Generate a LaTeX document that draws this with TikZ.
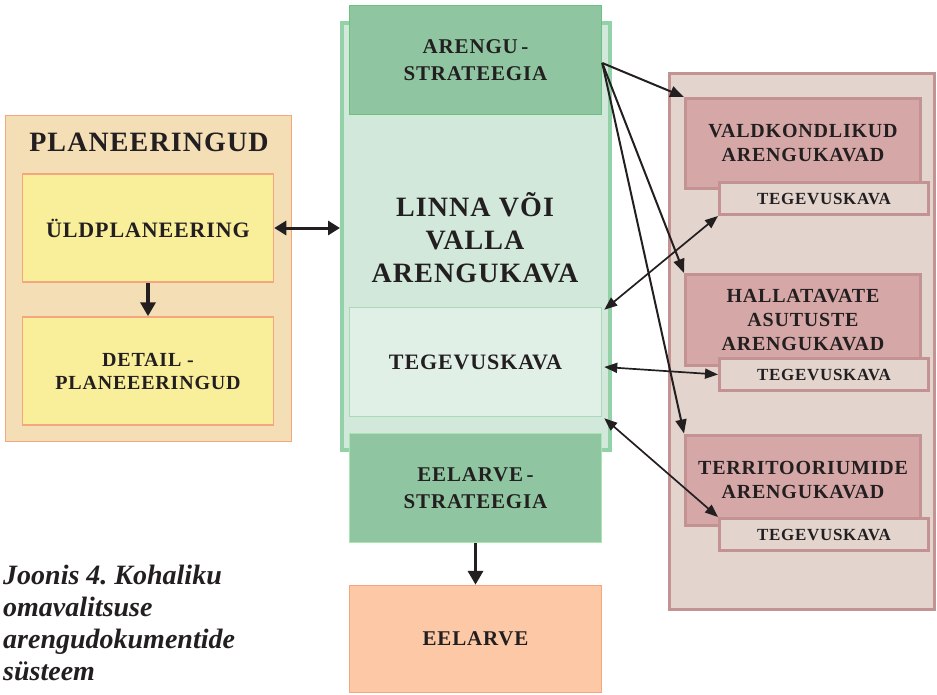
\documentclass[tikz,border=0pt]{standalone}
\usepackage{fontspec}
\setmainfont{Liberation Serif}[LetterSpace=4]
\newfontfamily\captionfont{Liberation Serif}
\usetikzlibrary{arrows.meta}
\frenchspacing

\definecolor{ink}{HTML}{231F20}
\definecolor{planfill}{HTML}{F3DEB6}
\definecolor{salmon}{HTML}{F6A67E}
\definecolor{yellowfill}{HTML}{F9EE9A}
\definecolor{greenouter}{HTML}{D1E8DA}
\definecolor{greenedge}{HTML}{93D2A8}
\definecolor{greendark}{HTML}{8FC6A1}
\definecolor{greendarkedge}{HTML}{6CC17E}
\definecolor{greenpale}{HTML}{E1F0E6}
\definecolor{greenpaleedge}{HTML}{A9D9B9}
\definecolor{peach}{HTML}{FCC8A5}
\definecolor{roseouter}{HTML}{E3D4CD}
\definecolor{roseedge}{HTML}{C39394}
\definecolor{rosebox}{HTML}{D6A7A7}

\newcommand{\fs}[2]{\fontsize{#1}{#2}\selectfont}

\tikzset{
  box/.style={draw, inner sep=0pt, align=center, text=ink},
  planbox/.style={box, fill=yellowfill, draw=salmon, line width=1.5pt,
    minimum width=251pt, minimum height=108pt},
  stratbox/.style={box, fill=greendark, draw=greendarkedge, line width=1.5pt,
    minimum width=252pt, minimum height=109pt,
    font=\bfseries\fs{21}{27}},
  kavabox/.style={box, fill=rosebox, draw=roseedge, line width=3pt,
    minimum width=235pt, minimum height=90pt,
    font=\bfseries\fs{20}{24}},
  tegbox/.style={box, fill=roseouter, draw=roseedge, line width=3pt,
    minimum width=209pt, minimum height=32pt,
    font=\bfseries\fs{17}{20}},
  heavyarrow/.style={draw=ink, line width=3.5pt, -{Triangle[length=14pt,width=15pt]}},
  heavylink/.style={draw=ink, line width=3pt,
    {Triangle[length=12pt,width=14pt]}-{Triangle[length=12pt,width=14pt]}},
  fanarrow/.style={draw=ink, line width=2pt, -{Triangle[length=14pt,width=11pt]}},
  thinlink/.style={draw=ink, line width=1.7pt,
    {Triangle[length=13pt,width=10pt]}-{Triangle[length=13pt,width=10pt]}},
}

\begin{document}
\begin{tikzpicture}[x=1pt, y=-1pt]
\useasboundingbox (0,0) rectangle (937,694);

% ---- planning group ----
\node[box, fill=planfill, draw=salmon, line width=1.5pt,
      minimum width=286pt, minimum height=326pt] (plan) at (148.5,278.5) {};
\node[text=ink, font=\bfseries\fs{28}{32}] (plantitle) at (149,142) {PLANEERINGUD};
\node[planbox, font=\bfseries\fs{22}{26}] (uld) at (148,228) {ÜLDPLANEERING};
\node[planbox, font=\bfseries\fs{20}{23}] (det) at (148,371) {DETAIL -\\PLANEEERINGUD};
\draw[heavyarrow] (uld.south) -- (det.north);

% ---- development plan of the municipality ----
\node[box, fill=greenouter, draw=greenedge, line width=4pt,
      minimum width=268pt, minimum height=427pt] (gout) at (476,236.5) {};
\node[stratbox] (aren) at (475.5,60) {ARENGU\,-\\STRATEEGIA};
\node[text=ink, align=center, font=\bfseries\fs{28}{33}] (linna) at (475,238)
  {LINNA VÕI\\VALLA\\ARENGUKAVA};
\node[box, fill=greenpale, draw=greenpaleedge, line width=1.5pt,
      minimum width=252pt, minimum height=109pt, font=\bfseries\fs{22}{26}]
  (tegc) at (475.5,362) {TEGEVUSKAVA};
\node[stratbox, draw=greendark!80!green!60!white] (eest) at (475.5,488) {EELARVE\,-\\STRATEEGIA};
\node[box, fill=peach, draw=salmon, line width=1.5pt,
      minimum width=252pt, minimum height=107pt, font=\bfseries\fs{21}{25}]
  (eel) at (475.5,639) {EELARVE};
\draw[heavyarrow] (eest.south) -- (eel.north);

\draw[heavylink] (uld.east) -- (uld.east -| gout.west);

% ---- sectoral and institutional plans ----
\node[box, fill=roseouter, draw=roseedge, line width=3.5pt,
      minimum width=265pt, minimum height=536pt] (rout) at (802,341.5) {};
\node[kavabox] (vald) at (803,143.5) {VALDKONDLIKUD\\ARENGUKAVAD};
\node[tegbox] (teg1) at (824,198.5) {TEGEVUSKAVA};
\node[kavabox, minimum height=91pt] (hall) at (803,320) {HALLATAVATE\\ASUTUSTE\\ARENGUKAVAD};
\node[tegbox] (teg2) at (824,374.5) {TEGEVUSKAVA};
\node[kavabox] (terr) at (803,480) {TERRITOORIUMIDE\\ARENGUKAVAD};
\node[tegbox] (teg3) at (824,534.5) {TEGEVUSKAVA};

% ---- connectors ----
\coordinate (fan) at ([yshift=-3pt]aren.east);
\draw[fanarrow] (fan) -- (vald.north west);
\draw[fanarrow] (fan) -- (hall.north west);
\draw[fanarrow] (fan) -- (terr.north west);

\draw[thinlink] ([xshift=2pt,yshift=-3pt]tegc.north east) -- (teg1.south west);
\draw[thinlink] ([xshift=2pt,yshift=-5pt]tegc.east) -- (teg2.west);
\draw[thinlink] ([xshift=2pt,yshift=-1pt]tegc.south east) -- (teg3.north west);

% ---- caption ----
\node[anchor=north west, inner sep=0pt, align=left, text=ink,
      font=\captionfont\bfseries\itshape\fs{28}{32}] (caption) at (3,565)
  {Joonis 4. Kohaliku\\omavalitsuse\\arengudokumentide\\süsteem};
\end{tikzpicture}
\end{document}
